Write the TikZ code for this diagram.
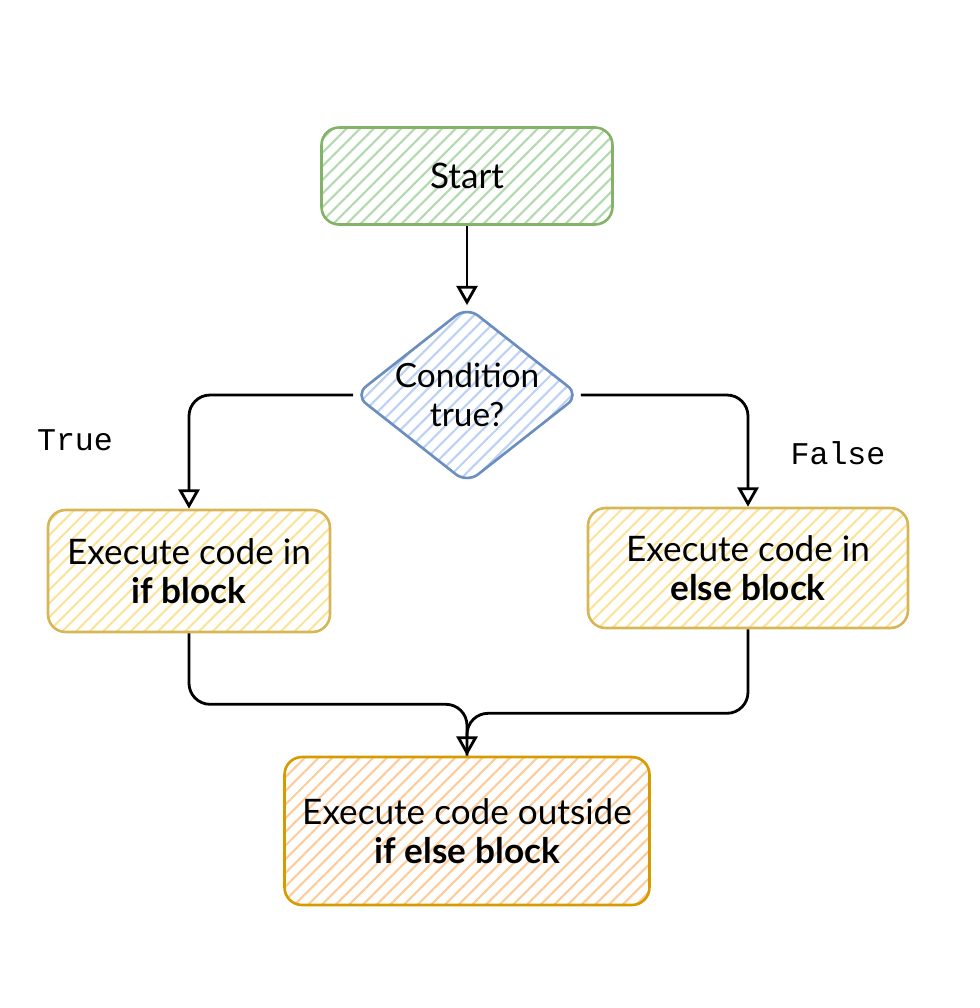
\documentclass[tikz,border=0pt]{standalone}
\usepackage{fontspec}
\setmainfont{Lato}
\newfontfamily\monofont{Liberation Mono}
\usetikzlibrary{shapes.geometric,arrows.meta,patterns.meta}
\definecolor{greenline}{HTML}{82B366}
\definecolor{greenfill}{HTML}{B3D9AE}
\definecolor{blueline}{HTML}{6C8EBF}
\definecolor{bluefill}{HTML}{BBD2F5}
\definecolor{yellowline}{HTML}{D6B656}
\definecolor{yellowfill}{HTML}{FCE39A}
\definecolor{orangeline}{HTML}{D79B00}
\definecolor{orangefill}{HTML}{FDCC9C}
\tikzset{
  box/.style={draw, rounded corners=10pt, line width=1.5pt, align=center,
    font=\fontsize{20}{22}\selectfont},
  hatch/.style={pattern={Lines[angle=45,distance=5.5pt,line width=1.2pt]}, pattern color=#1},
  flow/.style={draw, line width=1.6pt, rounded corners=12pt},
  lbl/.style={font=\monofont\fontsize{18}{20}\selectfont}
}
\begin{document}
\begin{tikzpicture}[x=0.02cm,y=-0.02cm]
\useasboundingbox (0,0) rectangle (980,1008);
\node[box, draw=greenline, hatch=greenfill, minimum width=5.82cm, minimum height=1.94cm] (start) at (467,176) {Start};
\node[box, diamond, draw=blueline, hatch=bluefill, rounded corners=8pt, aspect=1.27, minimum width=4.46cm, minimum height=3.52cm, inner sep=0pt, font=\fontsize{19}{22}\selectfont] (cond) at (467,395) {Condition\\true?};
\node[box, draw=yellowline, hatch=yellowfill, minimum width=5.64cm, minimum height=2.44cm] (ifb) at (189,571) {Execute code in\\\textbf{if} \textbf{block}};
\node[box, draw=yellowline, hatch=yellowfill, minimum width=6.4cm, minimum height=2.4cm] (elseb) at (748,568) {Execute code in\\\textbf{else} \textbf{block}};
\node[box, draw=orangeline, hatch=orangefill, minimum width=7.3cm, minimum height=2.96cm] (outb) at (467,831) {Execute code outside\\\textbf{if} \textbf{else} \textbf{block}};
\node[lbl] (true) at (75,440) {True};
\node[lbl] (false) at (838,453) {False};

\path[flow,-{Triangle[open,length=11pt,width=12pt]}] (start) -- (cond);
\path[flow,-{Triangle[open,length=11pt,width=12pt]}] (cond.west) -| (ifb.north);
\path[flow,-{Triangle[open,length=11pt,width=12pt]}] (cond.east) -| (elseb.north);
\path[flow,-{Triangle[open,length=11pt,width=12pt]}] (ifb.south) -- ++(0,71) -| (outb.north);
\path[flow] (elseb.south) -- ++(0,84) -| (outb.north);
\end{tikzpicture}
\end{document}
